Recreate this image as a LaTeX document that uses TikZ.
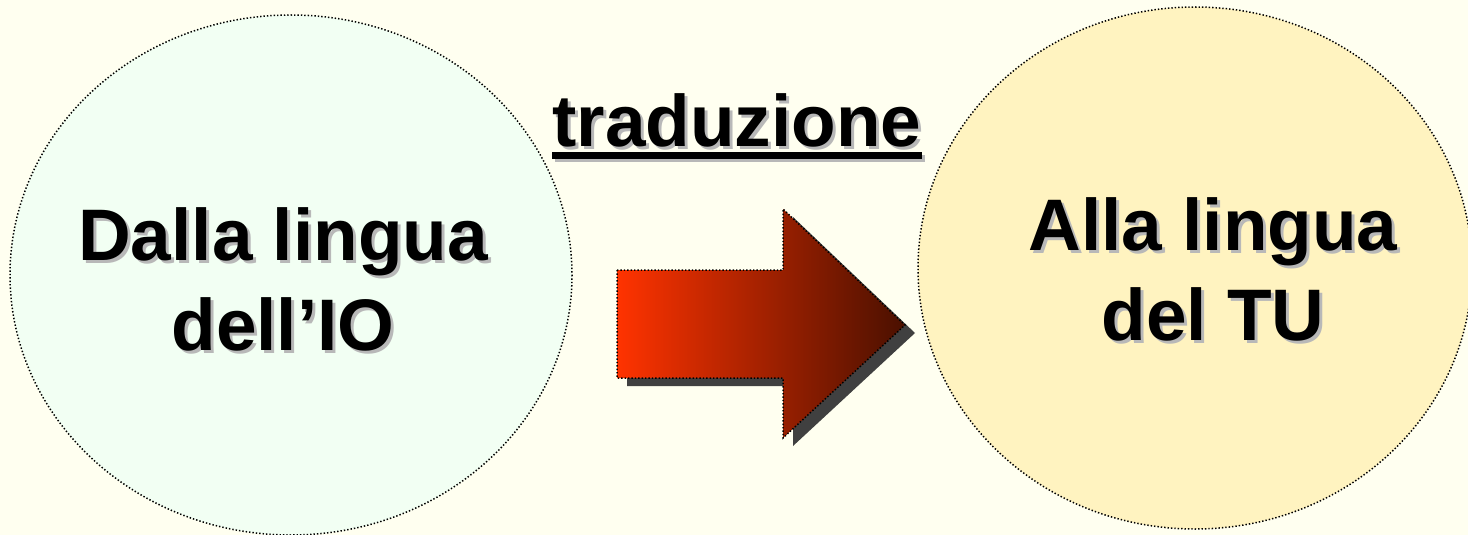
\documentclass[tikz,border=0pt]{standalone}
\usepackage{fontspec}
\setmainfont{Liberation Sans}
\usepackage{tikz}
\definecolor{bgivory}{HTML}{FFFFF0}
\definecolor{iofill}{HTML}{F2FFF3}
\definecolor{tufill}{HTML}{FFF3C0}
\definecolor{arrowlight}{HTML}{FF3300}
\definecolor{arrowdark}{HTML}{4A1000}
\definecolor{arrowshadow}{HTML}{404040}
\definecolor{textshadow}{HTML}{B8B8B8}
\tikzset{
bubble/.style={draw=black,line width=0.75pt,dash pattern=on 0.7pt off 1pt},
bigtext/.style={font=\fontsize{36.5}{45}\selectfont\bfseries,align=center,inner sep=0pt},
shadowtext/.style={bigtext,text=textshadow,xshift=1.5pt,yshift=-1.5pt}}

\begin{document}
\begin{tikzpicture}[x=0.5pt,y=-0.5pt]
   \useasboundingbox (0,0) rectangle (1468,535);
   \fill[bgivory] (0,0) rectangle (1468,535);
   % the two languages
   \filldraw[bubble,fill=iofill] (291,275) ellipse [x radius=281,y radius=260];
   \filldraw[bubble,fill=tufill] (1195,268) ellipse [x radius=277,y radius=261];
   % block arrow
   \fill[arrowshadow,shift={(10,8)}] (617,270) -- (783,270) -- (783,209) -- (905,325)
      -- (783,438) -- (783,378) -- (617,378) -- cycle;
   \shade[left color=arrowlight,right color=arrowdark] (617,270) -- (783,270) -- (783,209)
      -- (905,325) -- (783,438) -- (783,378) -- (617,378) -- cycle;
   \draw[bubble] (617,270) -- (783,270) -- (783,209) -- (905,325)
      -- (783,438) -- (783,378) -- (617,378) -- cycle;
   % texts
   \node[shadowtext,anchor=north] (io s) at (283,207) {Dalla lingua\\dell’IO};
   \node[bigtext,anchor=north] (io) at (283,207) {Dalla lingua\\dell’IO};
   \node[shadowtext,anchor=north] (tu s) at (1213,197) {Alla lingua\\del TU};
   \node[bigtext,anchor=north] (tu) at (1213,197) {Alla lingua\\del TU};
   \node[shadowtext,anchor=base] (trad s) at (737,147) {traduzione};
   \draw[textshadow,line width=3.5pt] ([yshift=-4.5pt]trad s.base west) -- ([yshift=-4.5pt]trad s.base east);
   \node[bigtext,anchor=base] (trad) at (737,147) {traduzione};
   \draw[line width=3.5pt] ([yshift=-4.5pt]trad.base west) -- ([yshift=-4.5pt]trad.base east);
\end{tikzpicture}
\end{document}
